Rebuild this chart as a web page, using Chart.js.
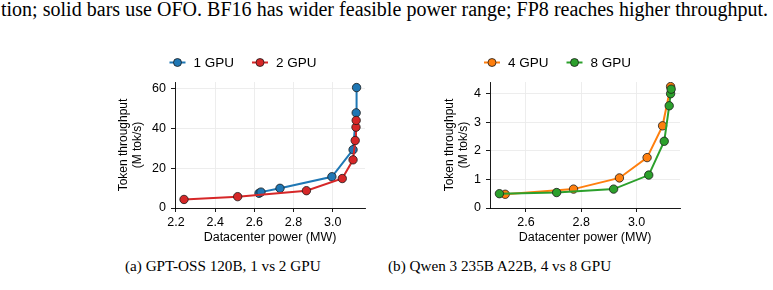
<!DOCTYPE html>
<html>
<head>
<meta charset="utf-8">
<script src="https://cdn.jsdelivr.net/npm/chart.js@4.4.1/dist/chart.umd.min.js"></script>
<style>
  html, body { margin: 0; padding: 0; background: #fff; }
  body { width: 773px; height: 290px; position: relative; overflow: hidden; }
  .serif { position: absolute; font-family: "Liberation Serif", "Times New Roman", serif; font-size: 15.2px; line-height: 15px; color: #000; white-space: nowrap; }
  .top { font-size: 20px; line-height: 20px; }
  canvas { position: absolute; }
</style>
</head>
<body>
<div id="topline" class="serif top" style="left:1px; top:-1px;">tion; solid bars use OFO. BF16 has wider feasible power range; FP8 reaches higher throughput.</div>

<canvas id="chartA" width="280" height="215" style="left:100px; top:40px;"></canvas>
<canvas id="chartB" width="280" height="215" style="left:420px; top:40px;"></canvas>

<div class="serif" style="left:125px; top:258px;">(a) GPT-OSS 120B, 1 vs 2 GPU</div>
<div class="serif" style="left:388px; top:258px;">(b) Qwen 3 235B A22B, 4 vs 8 GPU</div>

<script>
// (a) GPT-OSS 120B
var powerGpu1 = [2.624, 2.634, 2.731, 2.996, 3.104, 3.120, 3.122];
var tputGpu1  = [7.4, 8.0, 9.9, 15.7, 29.3, 47.8, 60.5];
var powerGpu2 = [2.241, 2.515, 2.866, 3.049, 3.104, 3.115, 3.119, 3.120];
var tputGpu2  = [4.3, 5.7, 8.7, 14.8, 24.2, 33.9, 40.6, 44.0];
var xTicksA = [2.2, 2.4, 2.6, 2.8, 3.0];
var yTicksA = [0, 20, 40, 60];

// (b) Qwen 3 235B A22B
var powerGpu4 = [2.525, 2.772, 2.938, 3.038, 3.094, 3.123];
var tputGpu4  = [0.48, 0.66, 1.05, 1.76, 2.87, 4.24];
var powerGpu8 = [2.504, 2.711, 2.917, 3.044, 3.100, 3.118, 3.123, 3.125];
var tputGpu8  = [0.50, 0.54, 0.66, 1.15, 2.33, 3.57, 3.99, 4.15];
var xTicksB = [2.6, 2.8, 3.0];
var yTicksB = [0, 1, 2, 3, 4];

var BLUE = '#1f77b4', RED = '#d62728', ORANGE = '#ff7f0e', GREEN = '#2ca02c';

// the cut-off text line above the figure runs to the right edge
(function fitTopLine() {
  var el = document.getElementById('topline');
  var target = 767;
  var w = el.getBoundingClientRect().width;
  var gap = (target - w) / (el.textContent.split(' ').length - 1);
  el.style.wordSpacing = gap.toFixed(2) + 'px';
})();

Chart.defaults.font.family = '"Liberation Sans", Arial, sans-serif';
Chart.defaults.color = '#000';

function toPoints(xs, ys) {
  return xs.map(function (x, i) { return {x: x, y: ys[i]}; });
}

function series(label, xs, ys, color, order) {
  return {
    label: label,
    data: toPoints(xs, ys),
    borderColor: color,
    backgroundColor: color,
    borderWidth: 2,
    pointRadius: 4.2,
    pointBorderWidth: 0.8,
    pointBorderColor: '#1a1a1a',
    pointBackgroundColor: color,
    order: order,
    tension: 0
  };
}

// legend drawn as matplotlib style: short line with a marker, then text
var lineLegend = {
  id: 'lineLegend',
  afterDraw: function (chart, args, opts) {
    var ctx = chart.ctx;
    ctx.save();
    ctx.font = opts.size + 'px "Liberation Sans", Arial, sans-serif';
    var items = chart.data.datasets.map(function (ds) {
      return {ds: ds, w: opts.handle + opts.textGap + ctx.measureText(ds.label).width};
    });
    var total = items.reduce(function (s, it) { return s + it.w; }, 0) + opts.itemGap * (items.length - 1);
    var x = opts.cx - total / 2;
    var y = opts.y;
    items.forEach(function (it) {
      var ds = it.ds;
      ctx.strokeStyle = ds.borderColor;
      ctx.lineWidth = 2;
      ctx.beginPath();
      ctx.moveTo(x, y);
      ctx.lineTo(x + opts.handle, y);
      ctx.stroke();
      ctx.beginPath();
      ctx.arc(x + opts.handle / 2, y, 4, 0, Math.PI * 2);
      ctx.fillStyle = ds.borderColor;
      ctx.fill();
      ctx.lineWidth = 0.8;
      ctx.strokeStyle = '#1a1a1a';
      ctx.stroke();
      ctx.fillStyle = '#000';
      ctx.textBaseline = 'middle';
      ctx.textAlign = 'left';
      ctx.fillText(ds.label, x + opts.handle + opts.textGap, y + 0.5);
      x += it.w + opts.itemGap;
    });
    ctx.restore();
  }
};

function makeOptions(cfg) {
  var gridStyle = {
    color: '#ebebeb',
    lineWidth: 0.9,
    tickColor: '#000',
    tickLength: 4,
    tickWidth: 0.9
  };
  return {
    responsive: false,
    animation: false,
    layout: { padding: { left: 0, right: cfg.padRight, top: 42, bottom: 0 } },
    plugins: {
      legend: { display: false },
      tooltip: { enabled: false },
      lineLegend: { cx: cfg.legendX, y: 22.5, size: 13.5, handle: 16, textGap: 8, itemGap: 18 }
    },
    scales: {
      x: {
        type: 'linear',
        min: cfg.xMin,
        max: cfg.xMax,
        afterBuildTicks: function (scale) { scale.ticks = cfg.xTicks.map(function (v) { return {value: v}; }); },
        afterFit: function (scale) { scale.height = 47; },
        grid: gridStyle,
        border: { color: '#000', width: 0.9 },
        ticks: {
          padding: 3,
          font: { size: 12.5 },
          callback: function (v) { return v.toFixed(1); }
        },
        title: {
          display: true,
          text: 'Datacenter power (MW)',
          font: { size: 12.5 },
          padding: { top: 0, bottom: 9.5 }
        }
      },
      y: {
        type: 'linear',
        min: 0,
        max: cfg.yMax,
        afterBuildTicks: function (scale) { scale.ticks = cfg.yTicks.map(function (v) { return {value: v}; }); },
        afterFit: function (scale) { scale.width = cfg.yWidth; },
        grid: gridStyle,
        border: { color: '#000', width: 0.9 },
        ticks: {
          padding: 5,
          font: { size: 12.5 },
          callback: function (v) { return String(v); }
        },
        title: {
          display: true,
          text: ['Token throughput', '(M tok/s)'],
          font: { size: 12, lineHeight: 1.1 },
          padding: { top: cfg.titlePad, bottom: 0 }
        }
      }
    }
  };
}

new Chart(document.getElementById('chartA'), {
  type: 'line',
  data: {
    datasets: [
      series('1 GPU', powerGpu1, tputGpu1, BLUE, 1),
      series('2 GPU', powerGpu2, tputGpu2, RED, 0)
    ]
  },
  options: makeOptions({
    xMin: 2.195, xMax: 3.165, yMax: 63.3,
    xTicks: xTicksA, yTicks: yTicksA,
    yWidth: 75, padRight: 15, titlePad: 17.4, legendX: 143
  }),
  plugins: [lineLegend]
});

new Chart(document.getElementById('chartB'), {
  type: 'line',
  data: {
    datasets: [
      series('4 GPU', powerGpu4, tputGpu4, ORANGE, 1),
      series('8 GPU', powerGpu8, tputGpu8, GREEN, 0)
    ]
  },
  options: makeOptions({
    xMin: 2.470, xMax: 3.157, yMax: 4.40,
    xTicks: xTicksB, yTicks: yTicksB,
    yWidth: 70, padRight: 20, titlePad: 23.4, legendX: 137.5
  }),
  plugins: [lineLegend]
});
</script>
</body>
</html>
